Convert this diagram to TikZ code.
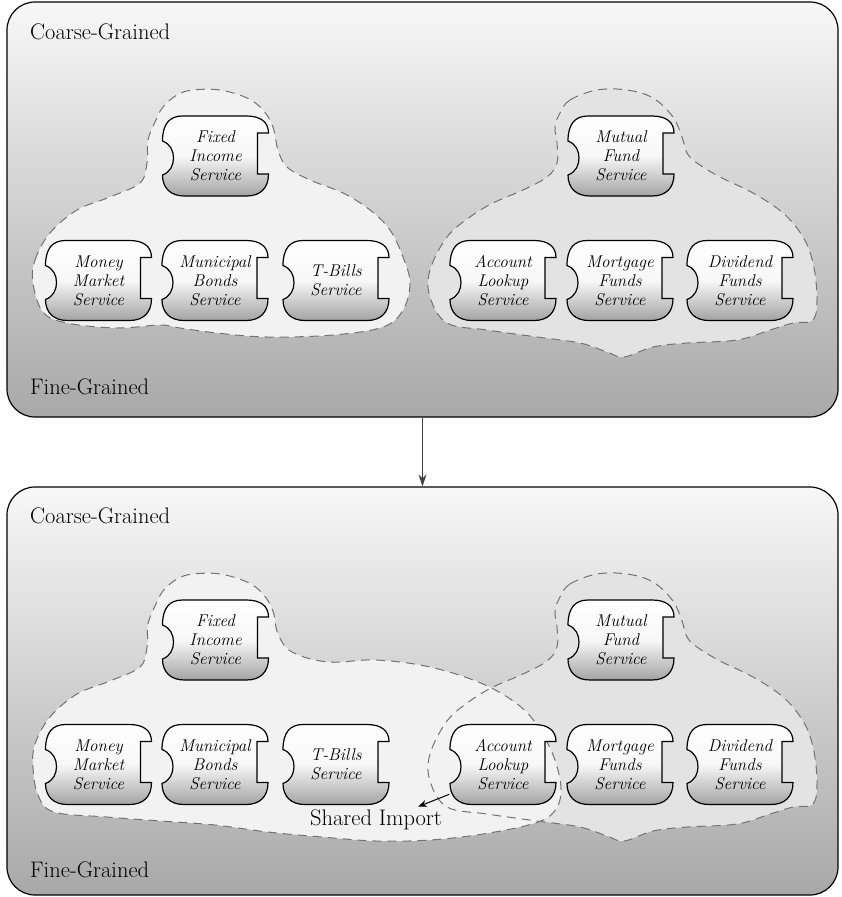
\documentclass[tikz,border=0pt]{standalone}
\usetikzlibrary{positioning, arrows.meta}

% one service box: name, x, y, text
\newcommand{\service}[4]{%
  \path[svcbody, shift={(#2,#3)}] (-33,-40) -- (31,-40)
    .. controls (45,-40) and (53,-34) .. (53,-23) -- (42,-23) -- (42,18) -- (53,18)
    .. controls (53,32) and (45,40) .. (31,40) -- (-31,40)
    .. controls (-45,40) and (-53,32) .. (-53,19)
    .. controls (-45,16) and (-42,9) .. (-42,2)
    .. controls (-42,-5) and (-45,-12) .. (-53,-15)
    .. controls (-53,-32) and (-46,-40) .. (-33,-40) -- cycle;
  \node[svctext] (#1) at (#2,#3) {#4};
}

\begin{document}
\begin{tikzpicture}[x=1pt, y=-1pt,
    panel/.style={draw, line width=1.2pt, rounded corners=28pt, inner sep=0pt,
      top color=black!3, bottom color=black!34, minimum width=831pt},
    panelname/.style={anchor=base west, inner sep=0pt, font=\fontsize{22.5}{26}\selectfont},
    svcbody/.style={draw, line width=1.2pt, top color=white, bottom color=black!36,
      middle color=black!3},
    svctext/.style={inner sep=0pt, align=center, minimum width=107pt, minimum height=80pt,
      font=\fontsize{17}{19}\selectfont\itshape},
    blobL/.style={fill=black!5},
    blobR/.style={fill=black!11},
    blobline/.style={draw=black!55, line width=1pt, dash pattern=on 9pt off 6pt},
    smoothie/.style={smooth cycle, tension=0.6}]
  \useasboundingbox (0,0) rectangle (842,897);

  %Panels
  \node[panel, minimum height=415pt] (top) at (422.5,209.5) {};
  \node[panel, minimum height=408pt] (bottom) at (422.5,691) {};
  \draw[-{Stealth[length=12pt,width=8pt]}, line width=1.2pt, black!75] (top) -- (bottom);

  \node[panelname] (coarse1) at (30,39) {Coarse-Grained};
  \node[panelname] (fine1) at (30,394) {Fine-Grained};
  \node[panelname] (coarse2) at (30,523) {Coarse-Grained};
  \node[panelname] (fine2) at (30,877) {Fine-Grained};

  %Top groups
  \path[blobL] plot[smoothie] coordinates {(33,283) (35,260) (50,233) (77,210) (110,197)
    (140,183) (147,163) (148,140) (155,122) (163,107) (177,95) (193,90) (220,90) (247,98)
    (263,110) (273,127) (278,150) (287,167) (310,180) (343,193) (370,210) (390,230)
    (403,257) (410,283) (403,310) (383,327) (333,335) (267,337) (217,333) (180,328)
    (160,325) (117,328) (67,323) (43,312)};
  \path[blobR] plot[smoothie] coordinates {(560,113) (570,100) (597,90) (627,90) (653,98)
    (673,117) (682,137) (687,153) (697,163) (720,177) (753,193) (783,213) (803,237)
    (813,263) (817,297) (813,320) (793,323) (770,330) (737,340) (687,343) (653,347)
    (624,357) (607,352) (580,343) (537,337) (487,330) (447,323) (430,297) (430,270)
    (447,237) (470,217) (493,203) (523,190) (547,177) (557,163) (557,143) (555,127)};
  \path[blobline] plot[smoothie] coordinates {(33,283) (35,260) (50,233) (77,210) (110,197)
    (140,183) (147,163) (148,140) (155,122) (163,107) (177,95) (193,90) (220,90) (247,98)
    (263,110) (273,127) (278,150) (287,167) (310,180) (343,193) (370,210) (390,230)
    (403,257) (410,283) (403,310) (383,327) (333,335) (267,337) (217,333) (180,328)
    (160,325) (117,328) (67,323) (43,312)};
  \path[blobline] plot[smoothie] coordinates {(560,113) (570,100) (597,90) (627,90) (653,98)
    (673,117) (682,137) (687,153) (697,163) (720,177) (753,193) (783,213) (803,237)
    (813,263) (817,297) (813,320) (793,323) (770,330) (737,340) (687,343) (653,347)
    (624,357) (607,352) (580,343) (537,337) (487,330) (447,323) (430,297) (430,270)
    (447,237) (470,217) (493,203) (523,190) (547,177) (557,163) (557,143) (555,127)};

  \service{fixed}{215.5}{156}{Fixed\\Income\\Service}
  \service{money}{98.5}{280.5}{Money\\Market\\Service}
  \service{muni}{215}{280.5}{Municipal\\Bonds\\Service}
  \service{tbills}{336}{280.5}{T-Bills\\Service}
  \service{mutual}{621}{156}{Mutual\\Fund\\Service}
  \service{lookup}{503}{280.5}{Account\\Lookup\\Service}
  \service{mortgage}{620}{280.5}{Mortgage\\Funds\\Service}
  \service{dividend}{740}{280.5}{Dividend\\Funds\\Service}

  %Bottom groups, the left one takes in the lookup service
  \path[blobR, shift={(0,484)}] plot[smoothie] coordinates {(560,113) (570,100) (597,90)
    (627,90) (653,98) (673,117) (682,137) (687,153) (697,163) (720,177) (753,193) (783,213)
    (803,237) (813,263) (817,297) (813,320) (793,323) (770,330) (737,340) (687,343)
    (653,347) (624,357) (607,352) (580,343) (537,337) (487,330) (447,323) (430,297)
    (430,270) (447,237) (470,217) (493,203) (523,190) (547,177) (557,163) (557,143)
    (555,127)};
  \path[blobL] plot[smoothie] coordinates {(33,767) (35,744) (50,717) (77,694) (110,681)
    (140,667) (147,647) (148,624) (155,606) (163,591) (177,579) (193,574) (220,574)
    (247,582) (263,594) (273,611) (278,634) (292,652) (328,662) (376,660) (430,667)
    (483,684) (521,707) (542,733) (556,763) (561,793) (553,813) (532,824) (483,834)
    (430,840) (376,841) (322,837) (268,832) (215,825) (161,821) (107,817) (54,812)
    (38,795)};
  \path[blobline, shift={(0,484)}] plot[smoothie] coordinates {(560,113) (570,100) (597,90)
    (627,90) (653,98) (673,117) (682,137) (687,153) (697,163) (720,177) (753,193) (783,213)
    (803,237) (813,263) (817,297) (813,320) (793,323) (770,330) (737,340) (687,343)
    (653,347) (624,357) (607,352) (580,343) (537,337) (487,330) (447,323) (430,297)
    (430,270) (447,237) (470,217) (493,203) (523,190) (547,177) (557,163) (557,143)
    (555,127)};
  \path[blobline] plot[smoothie] coordinates {(33,767) (35,744) (50,717) (77,694) (110,681)
    (140,667) (147,647) (148,624) (155,606) (163,591) (177,579) (193,574) (220,574)
    (247,582) (263,594) (273,611) (278,634) (292,652) (328,662) (376,660) (430,667)
    (483,684) (521,707) (542,733) (556,763) (561,793) (553,813) (532,824) (483,834)
    (430,840) (376,841) (322,837) (268,832) (215,825) (161,821) (107,817) (54,812)
    (38,795)};

  \service{fixed2}{215.5}{640}{Fixed\\Income\\Service}
  \service{money2}{98.5}{764.5}{Money\\Market\\Service}
  \service{muni2}{215}{764.5}{Municipal\\Bonds\\Service}
  \service{tbills2}{336}{764.5}{T-Bills\\Service}
  \service{mutual2}{621}{640}{Mutual\\Fund\\Service}
  \service{lookup2}{503}{764.5}{Account\\Lookup\\Service}
  \service{mortgage2}{620}{764.5}{Mortgage\\Funds\\Service}
  \service{dividend2}{740}{764.5}{Dividend\\Funds\\Service}

  \node[font=\fontsize{22.5}{26}\selectfont, inner sep=0pt] (shared) at (376,820) {Shared Import};
  \draw[-{Stealth[length=9pt,width=7pt]}, line width=1pt] (lookup2.209) -- ([xshift=42pt, yshift=3pt]shared.north);
\end{tikzpicture}
\end{document}
